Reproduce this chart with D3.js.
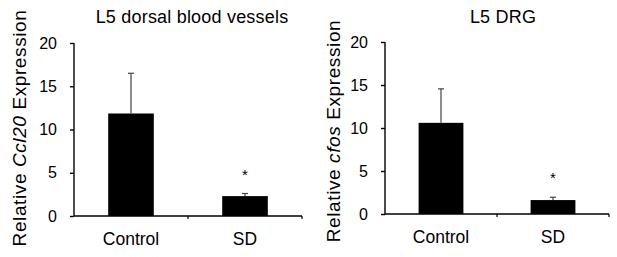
<!DOCTYPE html>
<meta charset="utf-8">
<head>
<style>
  body { margin: 0; background: #fff; }
  text { font-family: "Liberation Sans", Arial, Helvetica, sans-serif; fill: #000; }
</style>
</head>
<body>
<script src="https://cdn.jsdelivr.net/npm/d3@7"></script>
<script>

// data
var groups = ["Control", "SD"];
var ccl20Mean = [11.85, 2.3];
var ccl20Err = [4.65, 0.3];
var cfosMean = [10.6, 1.62];
var cfosErr = [3.95, 0.33];
var yTicks = [0, 5, 10, 15, 20];

var svg = d3.select("body").append("svg")
    .attr("width", 617)
    .attr("height", 257);

// one panel = one small bar chart
function drawPanel(opt) {
  var g = svg.append("g").attr("transform", "translate(" + opt.left + "," + opt.top + ")");
  var w = opt.width, h = opt.height;

  var x = d3.scaleBand().domain(groups).range([0, w]).paddingInner(0.6).paddingOuter(0.3);
  var y = d3.scaleLinear().domain([0, 20]).range([h, 0]);

  // bars
  g.selectAll("rect.bar")
    .data(groups)
    .enter().append("rect")
      .attr("class", "bar")
      .attr("x", function(d) { return x(d); })
      .attr("width", x.bandwidth())
      .attr("y", function(d, i) { return y(opt.mean[i]); })
      .attr("height", function(d, i) { return h - y(opt.mean[i]); })
      .attr("fill", "#000");

  // upper error bars
  g.selectAll("line.err")
    .data(groups)
    .enter().append("line")
      .attr("x1", function(d) { return x(d) + x.bandwidth() / 2; })
      .attr("x2", function(d) { return x(d) + x.bandwidth() / 2; })
      .attr("y1", function(d, i) { return y(opt.mean[i]); })
      .attr("y2", function(d, i) { return y(opt.mean[i] + opt.err[i]); })
      .attr("stroke", "#444")
      .attr("stroke-width", 1.2);
  g.selectAll("line.cap")
    .data(groups)
    .enter().append("line")
      .attr("x1", function(d) { return x(d) + x.bandwidth() / 2 - 3; })
      .attr("x2", function(d) { return x(d) + x.bandwidth() / 2 + 3; })
      .attr("y1", function(d, i) { return y(opt.mean[i] + opt.err[i]); })
      .attr("y2", function(d, i) { return y(opt.mean[i] + opt.err[i]); })
      .attr("stroke", "#444")
      .attr("stroke-width", 1.2);

  // significance star over SD
  g.append("text")
    .attr("x", x("SD") + x.bandwidth() / 2)
    .attr("y", y(opt.mean[1] + opt.err[1]) - 14)
    .attr("text-anchor", "middle")
    .style("font-size", "15px")
    .text("*");

  // y axis
  var ya = g.append("g").call(d3.axisLeft(y).tickValues(yTicks).tickSize(4).tickPadding(13));
  ya.select(".domain").attr("stroke-width", 1.4).attr("d", "M0," + y(20) + "V" + h);
  ya.selectAll(".tick line").attr("stroke-width", 1.4);
  ya.selectAll("text").style("font-size", "16px");

  // x axis: line with small ticks between and after the bands
  g.append("line")
    .attr("x1", 0).attr("x2", w)
    .attr("y1", h).attr("y2", h)
    .attr("stroke", "#000").attr("stroke-width", 1.4);
  var mid = (x("Control") + x.bandwidth() + x("SD")) / 2;
  g.selectAll("line.xt")
    .data([mid, w])
    .enter().append("line")
      .attr("x1", function(d) { return d; }).attr("x2", function(d) { return d; })
      .attr("y1", h).attr("y2", h + 3)
      .attr("stroke", "#000").attr("stroke-width", 1.2);

  g.selectAll("text.xl")
    .data(groups)
    .enter().append("text")
      .attr("x", function(d) { return x(d) + x.bandwidth() / 2; })
      .attr("y", h + 29)
      .attr("text-anchor", "middle")
      .style("font-size", "17.5px")
      .text(function(d) { return d; });

  // title
  g.append("text")
    .attr("x", opt.titleX)
    .attr("y", opt.titleY)
    .attr("text-anchor", "middle")
    .style("font-size", "18px")
    .style("letter-spacing", "0.2px")
    .text(opt.title);

  // y label with italic gene name
  var yl = g.append("text")
    .attr("transform", "translate(" + opt.labelX + "," + opt.labelY + ") rotate(-90)")
    .attr("text-anchor", "middle")
    .style("font-size", "19px")
    .style("letter-spacing", "0.6px");
  yl.append("tspan").text("Relative ");
  yl.append("tspan").style("font-style", "italic").text(opt.gene);
  yl.append("tspan").text(" Expression");
}

drawPanel({left: 74, top: 43, width: 228, height: 173, mean: ccl20Mean, err: ccl20Err,
  title: "L5 dorsal blood vessels", titleX: 118, titleY: -20, gene: "Ccl20", labelX: -48, labelY: 85});
drawPanel({left: 385, top: 42, width: 224, height: 172, mean: cfosMean, err: cfosErr,
  title: "L5 DRG", titleX: 118, titleY: -19, gene: "cfos", labelX: -45, labelY: 89});

</script>
</body>
